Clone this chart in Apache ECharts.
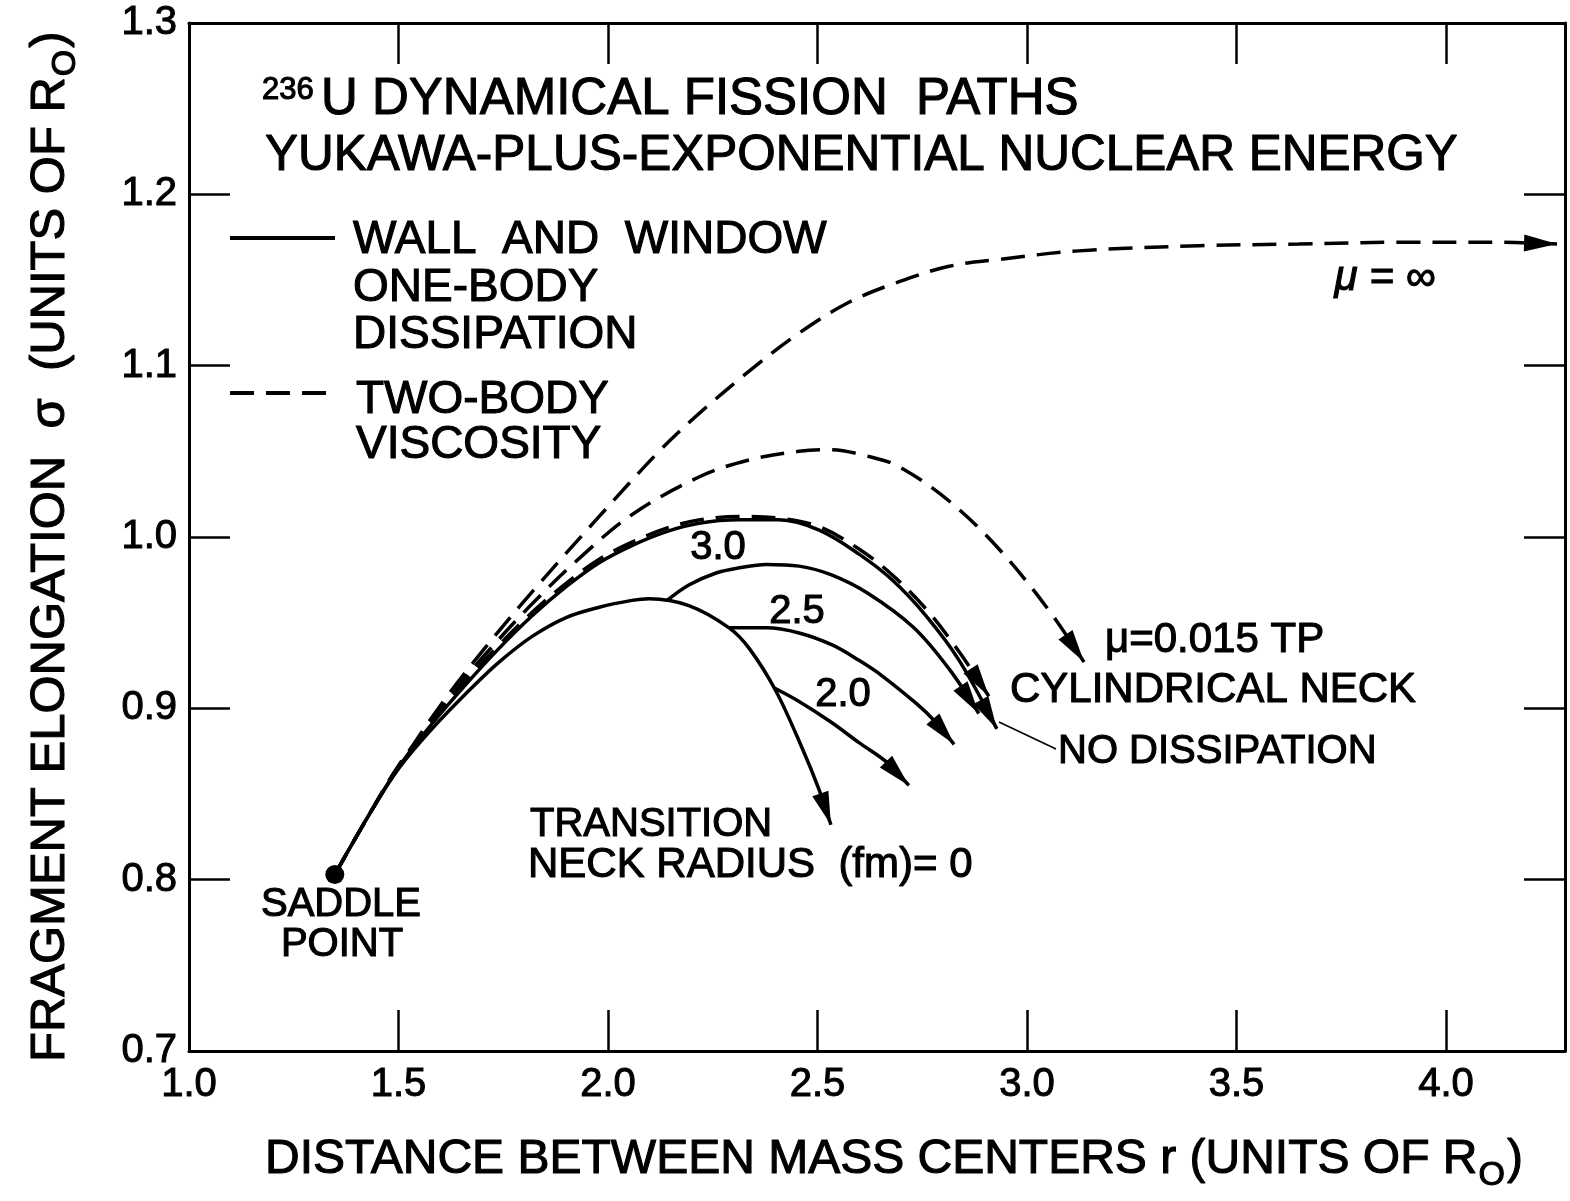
<!DOCTYPE html>
<html>
<head>
<meta charset="utf-8">
<script src="https://cdn.jsdelivr.net/npm/echarts@6/dist/echarts.min.js"></script>
<style>
  html, body { margin: 0; padding: 0; background: #ffffff; }
  #chart { width: 1570px; height: 1201px; }
</style>
</head>
<body>
<div id="chart"></div>
<script>
const FONT = '"Liberation Sans", Arial, sans-serif';

// Axis tick labels
const xTickLabels = ['1.0', '1.5', '2.0', '2.5', '3.0', '3.5', '4.0'];
const yTickLabels = ['0.7', '0.8', '0.9', '1.0', '1.1', '1.2', '1.3'];

// Saddle point of 236U
const saddlePoint = [1.348, 0.803];

// Two-body viscosity paths (dashed)
const muInfinity = [
  [1.348, 0.803], [1.430, 0.838], [1.501, 0.866], [1.604, 0.903], [1.709, 0.936],
  [1.819, 0.968], [1.979, 1.012], [2.122, 1.050], [2.217, 1.072], [2.348, 1.099],
  [2.456, 1.119], [2.575, 1.137], [2.695, 1.149], [2.814, 1.158], [2.933, 1.162],
  [3.124, 1.167], [3.411, 1.170], [3.649, 1.171], [3.888, 1.172], [4.126, 1.172],
  [4.265, 1.171]
];
const mu0015 = [
  [1.348, 0.803], [1.430, 0.838], [1.501, 0.866], [1.644, 0.913], [1.709, 0.932],
  [1.819, 0.961], [1.938, 0.989], [2.057, 1.013], [2.217, 1.035], [2.337, 1.045],
  [2.456, 1.050], [2.527, 1.051], [2.623, 1.047], [2.695, 1.041], [2.814, 1.021],
  [2.933, 0.993], [3.053, 0.957], [3.136, 0.927]
];

// Wall-and-window one-body dissipation paths (solid), by transition neck radius (fm)
const noDissipation = [
  [1.348, 0.803], [1.430, 0.838], [1.501, 0.866], [1.580, 0.891], [1.661, 0.914],
  [1.740, 0.935], [1.819, 0.954], [1.900, 0.971], [1.979, 0.985], [2.057, 0.995],
  [2.138, 1.003], [2.217, 1.008], [2.313, 1.010], [2.408, 1.010], [2.504, 1.004],
  [2.599, 0.990], [2.678, 0.975], [2.759, 0.954], [2.838, 0.928], [2.928, 0.888]
];
const cylindricalNeck = [
  [1.348, 0.803], [1.430, 0.838], [1.501, 0.867], [1.580, 0.892], [1.661, 0.916],
  [1.740, 0.937], [1.819, 0.956], [1.900, 0.973], [1.979, 0.987], [2.057, 0.997],
  [2.138, 1.005], [2.217, 1.010], [2.313, 1.012], [2.408, 1.011], [2.504, 1.006],
  [2.599, 0.993], [2.678, 0.978], [2.759, 0.958], [2.838, 0.933], [2.909, 0.907]
];
const neck0 = [
  [1.348, 0.803], [1.430, 0.838], [1.501, 0.865], [1.580, 0.888], [1.675, 0.912],
  [1.740, 0.927], [1.819, 0.942], [1.900, 0.953], [1.979, 0.959], [2.057, 0.963],
  [2.098, 0.964], [2.193, 0.960], [2.289, 0.947], [2.337, 0.935], [2.401, 0.910],
  [2.463, 0.877], [2.503, 0.853], [2.532, 0.832]
];
const neck20 = [
  [2.396, 0.912], [2.456, 0.904], [2.532, 0.892], [2.599, 0.880], [2.663, 0.869],
  [2.718, 0.855]
];
const neck25 = [
  [2.289, 0.947], [2.377, 0.947], [2.456, 0.944], [2.535, 0.937], [2.599, 0.928],
  [2.654, 0.919], [2.735, 0.903], [2.778, 0.893], [2.826, 0.879]
];
const neck30 = [
  [2.141, 0.963], [2.193, 0.972], [2.258, 0.979], [2.313, 0.982], [2.377, 0.984],
  [2.456, 0.983], [2.532, 0.978], [2.621, 0.967], [2.730, 0.947], [2.814, 0.923],
  [2.885, 0.897]
];

const solidCurves = [noDissipation, neck0, neck20, neck25, neck30];
const dashedCurves = [muInfinity, mu0015, cylindricalNeck];

// Arrowheads sit at the end of each path, aligned with its last segment
const arrowCurves = [muInfinity, mu0015, cylindricalNeck, noDissipation, neck0, neck20, neck25, neck30];
const arrowData = arrowCurves.map(c => {
  const a = c[c.length - 2], b = c[c.length - 1];
  return [a[0], a[1], b[0], b[1]];
});

const measureCtx = document.createElement('canvas').getContext('2d');
function textWidth(str, size) {
  measureCtx.font = size + 'px ' + FONT;
  return measureCtx.measureText(str).width;
}

const INK = 1.1; // stroke added to lettering for a heavier pen weight

function txt(x, y, text, size, align, extra) {
  return {
    type: 'text', x: x, y: y,
    style: Object.assign({
      text: text, fontSize: size, fontFamily: FONT, fill: '#000',
      textAlign: align || 'left', textVerticalAlign: 'middle',
      stroke: '#000', lineWidth: INK
    }, extra || {})
  };
}

function lineStyleFor(dashed) {
  return { color: '#000', width: 3.5, type: dashed ? [24, 12] : 'solid', cap: 'butt' };
}

const series = [];
solidCurves.forEach(c => series.push({
  type: 'line', data: c, showSymbol: false, smooth: 0.35, silent: true,
  lineStyle: lineStyleFor(false), z: 3
}));
dashedCurves.forEach(c => series.push({
  type: 'line', data: c, showSymbol: false, smooth: 0.35, silent: true,
  lineStyle: lineStyleFor(true), z: 4
}));
series.push({
  type: 'custom', data: arrowData, silent: true, z: 6,
  encode: { x: [0, 2], y: [1, 3] },
  renderItem: function (params, api) {
    const a = api.coord([api.value(0), api.value(1)]);
    const b = api.coord([api.value(2), api.value(3)]);
    const dx = b[0] - a[0], dy = b[1] - a[1];
    const len = Math.hypot(dx, dy) || 1;
    const ux = dx / len, uy = dy / len;
    const L = 33, W = 8.5;
    const bx = b[0] - ux * L, by = b[1] - uy * L;
    return {
      type: 'polygon',
      shape: { points: [[b[0], b[1]], [bx - uy * W, by + ux * W], [bx + uy * W, by - ux * W]] },
      style: { fill: '#000' }
    };
  }
});
series.push({
  type: 'scatter', data: [saddlePoint], symbol: 'circle', symbolSize: 19, silent: true,
  itemStyle: { color: '#000', opacity: 1 }, z: 7
});

const axisCommon = {
  axisLine: { show: true, lineStyle: { color: '#000', width: 3 } },
  axisTick: { show: true, inside: true, length: 41, lineStyle: { color: '#000', width: 2.5 } },
  splitLine: { show: false }
};

const xLabelFmt = v => {
  const s = (Math.round(v * 10) / 10).toFixed(1);
  return xTickLabels.indexOf(s) >= 0 && Math.abs(v * 10 - Math.round(v * 10)) < 1e-6 ? s : '';
};
const yLabelFmt = v => {
  const s = (Math.round(v * 10) / 10).toFixed(1);
  return yTickLabels.indexOf(s) >= 0 ? s : '';
};

const tickLabelStyle = {
  fontSize: 40, color: '#000', fontFamily: FONT,
  textBorderColor: '#000', textBorderWidth: 1
};

const xMin = 1.0, xMax = 4.284;

// Axis titles with subscript R0
const xNameMain = 'DISTANCE BETWEEN MASS CENTERS r (UNITS OF R';
const xNameSize = 48, subSize = 34;
const xw = textWidth(xNameMain, xNameSize);
const xNameX = 265, xNameY = 1160;

const yNameMain = 'FRAGMENT ELONGATION  σ  (UNITS OF R';
const yNameSize = 49;
const yw = textWidth(yNameMain, yNameSize);
const subW = textWidth('O', subSize);

const graphics = [
  // title block
  txt(262, 90, '236', 31),
  txt(321, 100, 'U DYNAMICAL FISSION  PATHS', 51),
  txt(265, 156, 'YUKAWA-PLUS-EXPONENTIAL NUCLEAR ENERGY', 49.5),
  // key
  { type: 'line', shape: { x1: 230, y1: 238, x2: 335, y2: 238 }, style: { stroke: '#000', lineWidth: 4 } },
  txt(353, 240, 'WALL  AND  WINDOW', 46),
  txt(353, 288, 'ONE-BODY', 46),
  txt(353, 335, 'DISSIPATION', 46),
  { type: 'line', shape: { x1: 230, y1: 393, x2: 337, y2: 393 }, style: { stroke: '#000', lineWidth: 4, lineDash: [24, 12] } },
  txt(356, 400, 'TWO-BODY', 46),
  txt(356, 445, 'VISCOSITY', 46),
  // curve labels
  txt(1385, 278, 'μ = ∞', 42, 'center', { fontStyle: 'italic' }),
  txt(718, 548, '3.0', 40, 'center'),
  txt(797, 612, '2.5', 40, 'center'),
  txt(843, 695, '2.0', 40, 'center'),
  txt(1105, 640, 'μ=0.015 TP', 42),
  txt(1010, 690, 'CYLINDRICAL NECK', 42),
  txt(1058, 752, 'NO DISSIPATION', 40),
  { type: 'line', shape: { x1: 999, y1: 722, x2: 1056, y2: 749 }, style: { stroke: '#000', lineWidth: 1.5 } },
  txt(530, 825, 'TRANSITION', 40),
  txt(528, 865, 'NECK RADIUS  (fm)= 0', 42),
  txt(341, 905, 'SADDLE', 40, 'center'),
  txt(342, 945, 'POINT', 40, 'center'),
  // x axis title
  txt(xNameX, xNameY, xNameMain, xNameSize),
  txt(xNameX + xw + 1, xNameY + 16, 'O', subSize),
  txt(xNameX + xw + subW + 3, xNameY, ')', xNameSize),
  // y axis title, reading upward
  {
    type: 'group', x: 50, y: 1062, rotation: Math.PI / 2,
    children: [
      txt(0, 0, yNameMain, yNameSize),
      txt(yw + 1, 16, 'O', subSize),
      txt(yw + subW + 3, 0, ')', yNameSize)
    ]
  }
];

const chart = echarts.init(document.getElementById('chart'), null, { renderer: 'canvas' });
chart.setOption({
  animation: false,
  backgroundColor: '#ffffff',
  grid: { left: 189, right: 5, top: 23, bottom: 150 },
  xAxis: [
    Object.assign({}, axisCommon, {
      type: 'value', min: xMin, max: xMax, interval: 0.5, position: 'bottom',
      axisLabel: Object.assign({ formatter: xLabelFmt, margin: 14, showMaxLabel: false }, tickLabelStyle)
    }),
    Object.assign({}, axisCommon, {
      type: 'value', min: xMin, max: xMax, interval: 0.5, position: 'top',
      axisLabel: { show: false }
    })
  ],
  yAxis: [
    Object.assign({}, axisCommon, {
      type: 'value', min: 0.7, max: 1.3, interval: 0.1, position: 'left',
      axisLabel: Object.assign({ formatter: yLabelFmt, margin: 12 }, tickLabelStyle)
    }),
    Object.assign({}, axisCommon, {
      type: 'value', min: 0.7, max: 1.3, interval: 0.1, position: 'right',
      axisLabel: { show: false }
    })
  ],
  series: series,
  graphic: graphics
});
</script>
</body>
</html>
